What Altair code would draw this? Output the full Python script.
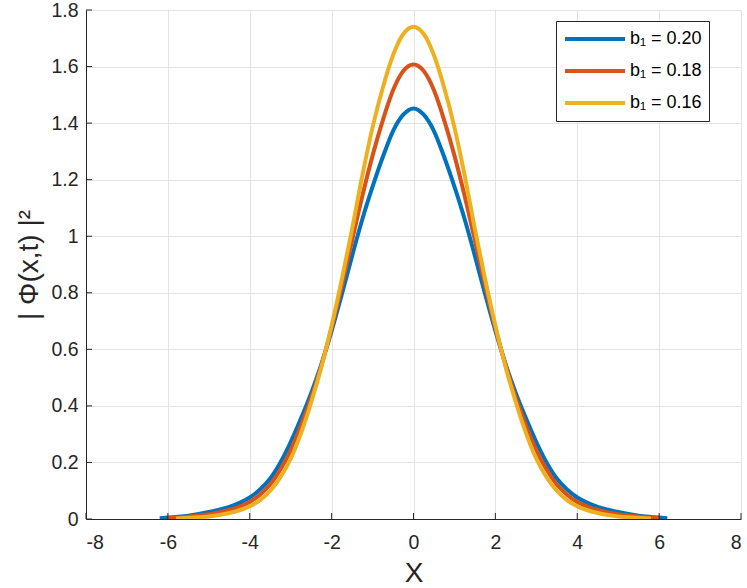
import altair as alt
import pandas as pd

# ---- data ----
labels = ["b₁ = 0.20", "b₁ = 0.18", "b₁ = 0.16"]
colors = ["#0072BD", "#D95319", "#EDB120"]

x_b020 = [-6.2, -6.0, -5.75, -5.5, -5.25, -5.0, -4.75, -4.5, -4.25, -4.0, -3.75, -3.5, -3.25,
          -3.0, -2.75, -2.5, -2.25, -2.0, -1.75, -1.5, -1.25, -1.0, -0.75, -0.5, -0.25, 0.0,
          0.25, 0.5, 0.75, 1.0, 1.25, 1.5, 1.75, 2.0, 2.25, 2.5, 2.75, 3.0, 3.25, 3.5, 3.75,
          4.0, 4.25, 4.5, 4.75, 5.0, 5.25, 5.5, 5.75, 6.0, 6.2]
y_b020 = [0.003, 0.005, 0.008, 0.012, 0.018, 0.025, 0.033, 0.043, 0.057, 0.076, 0.104, 0.143,
          0.200, 0.272, 0.355, 0.445, 0.548, 0.665, 0.795, 0.930, 1.060, 1.175, 1.280, 1.372,
          1.430, 1.452, 1.430, 1.372, 1.280, 1.175, 1.060, 0.930, 0.795, 0.665, 0.548, 0.445,
          0.355, 0.272, 0.200, 0.143, 0.104, 0.076, 0.057, 0.043, 0.033, 0.025, 0.018, 0.012,
          0.008, 0.005, 0.003]

x_b018 = [-6.0, -5.75, -5.5, -5.25, -5.0, -4.75, -4.5, -4.25, -4.0, -3.75, -3.5, -3.25, -3.0,
          -2.75, -2.5, -2.25, -2.0, -1.75, -1.5, -1.25, -1.0, -0.75, -0.5, -0.25, 0.0, 0.25,
          0.5, 0.75, 1.0, 1.25, 1.5, 1.75, 2.0, 2.25, 2.5, 2.75, 3.0, 3.25, 3.5, 3.75, 4.0,
          4.25, 4.5, 4.75, 5.0, 5.25, 5.5, 5.75, 6.0]
y_b018 = [0.003, 0.005, 0.008, 0.012, 0.017, 0.023, 0.032, 0.044, 0.060, 0.086, 0.122, 0.175,
          0.243, 0.330, 0.428, 0.543, 0.676, 0.825, 0.985, 1.142, 1.285, 1.410, 1.516, 1.584,
          1.607, 1.584, 1.516, 1.410, 1.285, 1.142, 0.985, 0.825, 0.676, 0.543, 0.428, 0.330,
          0.243, 0.175, 0.122, 0.086, 0.060, 0.044, 0.032, 0.023, 0.017, 0.012, 0.008, 0.005,
          0.003]

x_b016 = [-5.8, -5.5, -5.25, -5.0, -4.75, -4.5, -4.25, -4.0, -3.75, -3.5, -3.25, -3.0, -2.75,
          -2.5, -2.25, -2.0, -1.75, -1.5, -1.25, -1.0, -0.75, -0.5, -0.25, 0.0, 0.25, 0.5,
          0.75, 1.0, 1.25, 1.5, 1.75, 2.0, 2.25, 2.5, 2.75, 3.0, 3.25, 3.5, 3.75, 4.0, 4.25,
          4.5, 4.75, 5.0, 5.25, 5.5, 5.8]
y_b016 = [0.002, 0.004, 0.006, 0.009, 0.014, 0.021, 0.031, 0.045, 0.067, 0.100, 0.148, 0.213,
          0.303, 0.412, 0.538, 0.684, 0.848, 1.025, 1.215, 1.385, 1.525, 1.640, 1.715, 1.741,
          1.715, 1.640, 1.525, 1.385, 1.215, 1.025, 0.848, 0.684, 0.538, 0.412, 0.303, 0.213,
          0.148, 0.100, 0.067, 0.045, 0.031, 0.021, 0.014, 0.009, 0.006, 0.004, 0.002]

x_ticks = [-8, -6, -4, -2, 0, 2, 4, 6, 8]
y_ticks = [0, 0.2, 0.4, 0.6, 0.8, 1, 1.2, 1.4, 1.6, 1.8]

rows = []
for lab, xs, ys in zip(labels, [x_b020, x_b018, x_b016], [y_b020, y_b018, y_b016]):
    for i, (xv, yv) in enumerate(zip(xs, ys)):
        rows.append({"x": xv, "y": yv, "series": lab, "ord": i})
df = pd.DataFrame(rows)

W, H = 655, 509
FONT = "Liberation Sans"
AX = "#262626"
GRID = "#e3e3e3"

xscale = alt.Scale(domain=[-8, 8], nice=False, zero=False)
yscale = alt.Scale(domain=[0, 1.8], nice=False, zero=False)

lines = alt.Chart(df).mark_line(
    strokeWidth=4, interpolate="monotone", strokeCap="butt", clip=True
).encode(
    x=alt.X("x:Q", scale=xscale,
            axis=alt.Axis(values=x_ticks, title="X", grid=True, gridColor=GRID,
                          domainColor=AX, domainWidth=1, ticks=False, tickSize=0,
                          labelFont=FONT, labelFontSize=19.5, labelColor=AX,
                          labelBaseline="alphabetic", labelPadding=29,
                          labelExpr="datum.value + ''",
                          titleFont=FONT, titleFontSize=28, titleFontWeight="normal",
                          titleColor=AX, titleBaseline="alphabetic", titleY=62)),
    y=alt.Y("y:Q", scale=yscale,
            axis=alt.Axis(values=y_ticks, title="| Φ(x,t) |²", grid=True, gridColor=GRID,
                          domainColor=AX, domainWidth=1, ticks=False, tickSize=0,
                          labelFont=FONT, labelFontSize=19.5, labelColor=AX,
                          labelPadding=8, labelExpr="datum.value + ''",
                          titleFont=FONT, titleFontSize=28, titleFontWeight="normal",
                          titleColor=AX, titleX=-43, titleY=H / 2, titleBaseline="bottom")),
    color=alt.Color("series:N", scale=alt.Scale(domain=labels, range=colors),
                    legend=alt.Legend(title=None, orient="none", legendX=470, legendY=11,
                                      symbolType="stroke", symbolSize=3600,
                                      symbolStrokeWidth=4, labelFont=FONT, labelFontSize=18,
                                      labelColor="#000000", labelOffset=3, padding=7,
                                      clipHeight=22, rowPadding=10, strokeColor=AX,
                                      fillColor="white", cornerRadius=0)),
    order=alt.Order("ord:Q"),
)

xt = alt.Chart(pd.DataFrame({"x": x_ticks})).mark_rule(color=AX, strokeWidth=1).encode(
    x=alt.X("x:Q", scale=xscale),
    y=alt.value(H), y2=alt.value(H - 6),
)
yt = alt.Chart(pd.DataFrame({"y": y_ticks})).mark_rule(color=AX, strokeWidth=1).encode(
    y=alt.Y("y:Q", scale=yscale),
    x=alt.value(0), x2=alt.value(6),
)

chart = alt.layer(lines, xt, yt).properties(
    width=W, height=H,
    padding={"left": 86, "top": 10, "right": 6, "bottom": 69},
    autosize=alt.AutoSizeParams(type="none"),
    background="white",
).configure_view(stroke=None)

chart.save("out.html", embed_options={"renderer": "svg", "actions": False})
